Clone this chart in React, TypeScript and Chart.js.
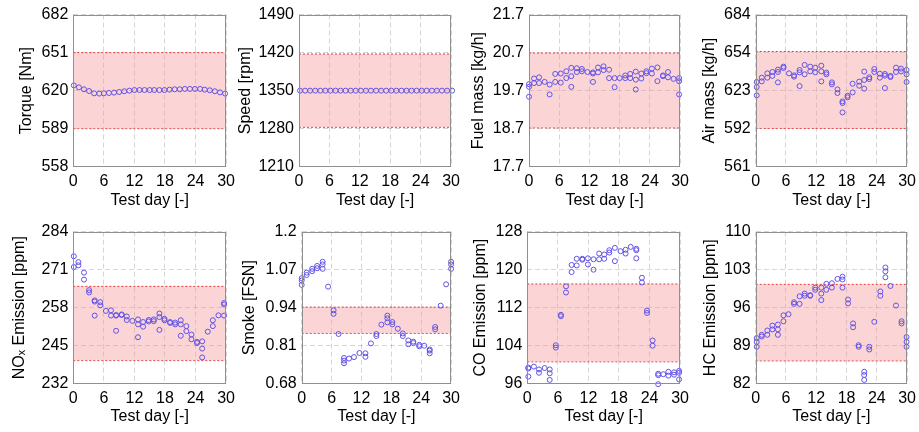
import React, { useEffect, useRef } from 'react';
import { Chart, registerables } from 'chart.js';

Chart.register(...registerables);

// ---------- data ----------
const xTickValues = [0, 6, 12, 18, 24, 30];

const torqueDays = [0.1, 1.1, 2.1, 3.1, 4.1, 5.1, 6.0, 7.0, 8.0, 9.0, 10.0, 11.0, 12.0, 13.0, 14.0, 15.0, 15.9, 16.9, 17.9, 18.9, 19.9, 20.9, 21.9, 22.9, 23.9, 24.9, 25.8, 26.8, 27.8, 28.8, 29.8];
const torqueValues = [[624.3], [622.7], [621.1], [619.7], [617.8], [617.6], [617.8], [618.1], [618.4], [618.9], [619.5], [620.0], [620.5], [620.5], [620.5], [620.5], [620.5], [620.5], [620.5], [620.8], [621.1], [621.1], [621.4], [621.4], [621.4], [621.4], [620.8], [620.3], [619.5], [618.6], [617.6]];
const torqueTicks = ['558', '589', '620', '651', '682'];

const speedDays = [0.2, 1.2, 2.2, 3.2, 4.2, 5.2, 6.2, 7.2, 8.2, 9.2, 10.2, 11.2, 12.2, 13.2, 14.2, 15.2, 16.2, 17.2, 18.2, 19.2, 20.2, 21.2, 22.2, 23.2, 24.2, 25.2, 26.2, 27.2, 28.2, 29.2, 30.2];
const speedValues = [[1350], [1350], [1350], [1350], [1350], [1350], [1350], [1350], [1350], [1350], [1350], [1350], [1350], [1350], [1350], [1350], [1350], [1350], [1350], [1350], [1350], [1350], [1350], [1350], [1350], [1350], [1350], [1350], [1350], [1350], [1350]];
const speedTicks = ['1210', '1280', '1350', '1420', '1490'];

const fuelDays = [0.0, 1.0, 2.0, 3.1, 4.1, 5.2, 6.3, 7.4, 8.4, 9.5, 10.5, 11.6, 12.7, 13.7, 14.8, 15.9, 17.0, 18.0, 19.1, 20.1, 21.2, 22.3, 23.3, 24.4, 25.5, 26.6, 27.6, 28.7, 29.8];
const fuelValues = [[19.87, 19.80, 19.54], [20.02, 19.90], [20.05, 19.90], [19.93], [19.86, 19.60], [20.14, 19.93], [20.15, 19.91], [20.21, 20.03], [20.30, 20.08, 19.80], [20.29, 20.19], [20.27, 20.21], [20.19], [20.18, 20.15, 19.93], [20.31, 20.18], [20.34, 20.24], [20.25, 20.03], [20.03, 19.79], [20.03], [20.10, 20.03], [20.14, 20.03], [20.20, 19.99, 19.73], [20.15, 20.02], [20.21, 20.16], [20.28, 20.15], [20.31, 19.95], [20.10, 20.08], [20.19, 20.05], [20.01], [20.03, 19.95, 19.60]];
const fuelTicks = ['17.7', '18.7', '19.7', '20.7', '21.7'];

const airDays = [0.2, 1.2, 2.3, 3.3, 4.4, 5.5, 6.6, 7.6, 8.7, 9.7, 10.8, 11.8, 13.0, 14.0, 15.1, 16.2, 17.2, 18.2, 19.2, 20.5, 21.5, 22.5, 23.5, 24.6, 25.6, 26.7, 27.8, 28.8, 29.9];
const airValues = [[629.5, 625.4, 618.7], [630.0, 633.0], [633.0, 636.5], [634.4, 637.6], [637.6, 639.5, 629.2], [641.9, 640.8], [636.5], [634.9, 633.8], [639.2, 637.3, 626.2], [643.3, 635.7], [641.9, 638.1], [641.1, 637.3], [642.7, 638.1, 630.0], [637.1, 635.7], [629.2, 627.6], [623.5, 620.6], [613.8, 612.5, 604.9], [618.4, 617.1], [628.1, 621.1], [629.8, 626.5], [637.9, 631.1, 624.1], [633.3, 631.9], [640.0, 637.6], [636.2, 633.0], [636.0, 634.6, 624.6], [634.4, 633.5], [641.1, 637.6], [640.3, 638.1], [639.2, 635.7, 629.5]];
const airTicks = ['561', '592', '623', '654', '684'];

const noxDays = [0.1, 1.0, 2.1, 3.1, 4.2, 5.3, 6.4, 7.4, 8.4, 9.5, 10.5, 11.6, 12.7, 13.7, 14.8, 15.8, 16.9, 17.9, 19.0, 20.0, 21.1, 22.2, 23.2, 24.3, 25.3, 26.4, 27.4, 28.5, 29.6];
const noxValues = [[275.6, 271.9], [273.6, 272.5], [270.0, 267.6], [264.0, 263.2], [260.5, 260.1, 255.3], [259.9, 258.8], [256.9], [257.1, 255.3], [255.5, 255.3, 250.1], [255.7, 255.5], [255.0, 253.8], [253.5], [254.0, 252.3, 247.9], [253.1, 251.5], [253.8, 253.3], [254.0, 253.4], [256.0, 254.8, 250.4], [254.2, 253.7], [253.1, 252.8], [252.9, 252.3], [253.7, 252.3, 248.4], [251.7, 250.0], [248.8, 247.2], [246.3, 245.9], [246.5, 244.0, 241.0], [249.8], [253.7, 251.7], [255.4], [259.6, 259.1, 255.3]];
const noxTicks = ['232', '245', '258', '271', '284'];

const smokeDays = [0.0, 1.0, 2.1, 3.1, 4.2, 5.3, 6.4, 7.4, 8.5, 9.5, 10.5, 11.6, 12.8, 13.9, 15.0, 16.0, 17.2, 18.2, 19.3, 20.3, 21.4, 22.4, 23.6, 24.6, 25.7, 26.8, 27.9, 29.0, 30.0];
const smokeValues = [[1.041, 1.033, 1.018], [1.060, 1.052], [1.073, 1.065], [1.083, 1.075], [1.097, 1.088, 1.073], [1.012], [0.931, 0.919], [0.850], [0.768, 0.759, 0.750], [0.766], [0.771], [0.785], [0.784, 0.772], [0.818], [0.850, 0.843], [0.882], [0.913, 0.904, 0.890], [0.891, 0.883], [0.868], [0.852, 0.843], [0.828, 0.815], [0.824, 0.819], [0.813, 0.808], [0.810], [0.797, 0.793, 0.784], [0.874, 0.866], [0.947], [1.020], [1.097, 1.088, 1.073]];
const smokeTicks = ['0.68', '0.81', '0.94', '1.07', '1.2'];

const coDays = [0.2, 1.3, 2.3, 3.4, 4.4, 5.6, 6.6, 7.6, 8.7, 9.7, 10.8, 11.9, 13.0, 14.1, 15.1, 16.1, 17.2, 18.3, 19.3, 20.3, 21.4, 22.5, 23.5, 24.6, 25.7, 26.7, 27.7, 28.8, 29.8];
const coValues = [[99.4, 99.2, 97.5], [99.6], [99.0, 98.3], [99.3], [99.0, 98.2, 96.8], [104.1, 103.6], [110.5, 110.2], [116.5, 115.2], [121.0, 119.5], [122.3, 120.9], [122.3, 122.1], [122.4, 121.1], [122.2, 120.0], [123.4, 122.2], [123.2, 122.3], [124.1, 123.6], [124.6, 121.8], [123.9], [124.2, 123.4], [124.8], [124.4, 124.1, 122.4], [118.3, 117.3], [111.4, 110.9], [105.1, 104.0], [98.1, 97.8, 95.9], [98.0], [98.5, 97.7], [98.4, 97.9], [98.7, 98.3, 96.9]];
const coTicks = ['96', '104', '112', '120', '128'];

const hcDays = [0.2, 1.2, 2.3, 3.3, 4.4, 5.5, 6.5, 7.6, 8.7, 9.7, 10.8, 11.8, 13.0, 14.0, 15.1, 16.2, 17.2, 18.3, 19.3, 20.4, 21.5, 22.5, 23.5, 24.7, 25.7, 26.7, 27.8, 28.9, 29.9];
const hcValues = [[90.4, 89.7, 88.8], [91.0, 90.7], [91.8, 91.0], [92.7, 92.0], [92.9, 92.0, 91.0], [94.6, 93.5], [94.8], [97.0, 96.7], [98.1, 96.7], [98.6, 98.2], [98.3, 98.2], [99.7, 99.3], [99.7, 98.6, 97.4], [100.4, 99.3], [100.5, 99.7], [101.3], [101.7, 101.2, 99.7], [97.5, 96.8], [93.1, 92.4], [89.1, 88.8], [84.2, 83.6, 82.7], [88.8, 88.3], [93.4], [99.0, 98.2], [103.4, 102.7, 101.6], [100.0], [96.4], [93.5, 93.1], [90.6, 89.7, 88.8]];
const hcTicks = ['82', '89', '96', '103', '110'];

const yTitles = ['Torque [Nm]', 'Speed [rpm]', 'Fuel mass [kg/h]', 'Air mass [kg/h]', 'NO\u2093 Emission [ppm]', 'Smoke [FSN]', 'CO Emission [ppm]', 'HC Emission [ppm]'];
const yRanges = [[558, 682], [1210, 1490], [17.7, 21.7], [561, 684], [232, 284], [0.68, 1.2], [96, 128], [82, 110]];
const bandUpper = [651, 1417.5, 20.69, 654.2, 265.3, 0.942, 117.0, 100.3];
const bandLower = [589, 1282.5, 18.72, 591.9, 239.9, 0.852, 100.6, 86.2];
const xTitle = 'Test day [-]';

// ---------- layout (positions only) ----------
const layouts = [
  { left: 0, top: 0, plotLeft: 73.3, plotRight: 227.7, plotTop: 14, plotBottom: 166.7, titleCenter: 27 },
  { left: 230, top: 0, plotLeft: 299, plotRight: 452.7, plotTop: 14, plotBottom: 166.7, titleCenter: 246 },
  { left: 460, top: 0, plotLeft: 529, plotRight: 682, plotTop: 14, plotBottom: 166.7, titleCenter: 478.5 },
  { left: 690, top: 0, plotLeft: 755.7, plotRight: 909, plotTop: 14, plotBottom: 166.7, titleCenter: 710 },
  { left: 0, top: 216, plotLeft: 73.3, plotRight: 227.7, plotTop: 231.7, plotBottom: 383.7, titleCenter: 20 },
  { left: 230, top: 216, plotLeft: 301.7, plotRight: 452.7, plotTop: 231.7, plotBottom: 383.7, titleCenter: 249.7 },
  { left: 460, top: 216, plotLeft: 527.3, plotRight: 681.7, plotTop: 231.7, plotBottom: 383.7, titleCenter: 481 },
  { left: 690, top: 216, plotLeft: 755.7, plotRight: 909, plotTop: 231.7, plotBottom: 383.7, titleCenter: 710.3 },
];

const seriesDays = [torqueDays, speedDays, fuelDays, airDays, noxDays, smokeDays, coDays, hcDays];
const seriesValues = [torqueValues, speedValues, fuelValues, airValues, noxValues, smokeValues, coValues, hcValues];
const seriesTicks = [torqueTicks, speedTicks, fuelTicks, airTicks, noxTicks, smokeTicks, coTicks, hcTicks];

const FONT = 'Liberation Sans, Arial, sans-serif';
const RIGHT_PAD = 12;
const CELL_H = 216;

const framePlugin = {
  id: 'frame',
  afterDraw(chart: any) {
    const { ctx, chartArea } = chart;
    const l = Math.round(chartArea.left) + 0.5;
    const t = Math.round(chartArea.top) + 0.5;
    const r = Math.round(chartArea.right) - 0.5;
    const b = Math.round(chartArea.bottom) - 0.5;
    ctx.save();
    ctx.strokeStyle = '#8f8f8f';
    ctx.lineWidth = 1;
    ctx.strokeRect(l, t, r - l, b - t);
    ctx.restore();
  },
};

function Panel({ index }: { index: number }) {
  const ref = useRef<HTMLCanvasElement | null>(null);
  const lay = layouts[index];
  const width = Math.round(lay.plotRight + RIGHT_PAD - lay.left);

  useEffect(() => {
    const days = seriesDays[index];
    const vals = seriesValues[index];
    const points: { x: number; y: number }[] = [];
    days.forEach((d, i) => vals[i].forEach((v) => points.push({ x: d, y: v })));
    const [yMin, yMax] = yRanges[index];
    const labels = seriesTicks[index];
    const yw = lay.plotLeft - lay.left;
    const xh = lay.top + CELL_H - lay.plotBottom;
    const padTop = lay.plotTop - lay.top;
    const titlePad = lay.titleCenter - lay.left - 9.6;

    const chart = new Chart(ref.current as HTMLCanvasElement, {
      type: 'scatter',
      data: {
        datasets: [
          {
            data: points,
            pointStyle: 'circle',
            pointRadius: 2.5,
            pointBorderWidth: 1,
            borderColor: '#6152e6',
            backgroundColor: 'rgba(0,0,0,0)',
            clip: false,
          } as any,
          {
            type: 'line',
            data: [{ x: 0, y: bandUpper[index] }, { x: 30, y: bandUpper[index] }],
            borderColor: '#e23b3b',
            borderWidth: 1,
            borderDash: [2, 2],
            pointRadius: 0,
            fill: '+1',
            backgroundColor: 'rgba(245,150,150,0.4)',
          } as any,
          {
            type: 'line',
            data: [{ x: 0, y: bandLower[index] }, { x: 30, y: bandLower[index] }],
            borderColor: '#e23b3b',
            borderWidth: 1,
            borderDash: [2, 2],
            pointRadius: 0,
            fill: false,
          } as any,
        ],
      },
      options: {
        animation: false,
        responsive: false,
        events: [],
        layout: { padding: { left: 0, right: RIGHT_PAD, top: padTop, bottom: 0 } },
        plugins: { legend: { display: false }, tooltip: { enabled: false } },
        scales: {
          x: {
            type: 'linear',
            min: 0,
            max: 30,
            afterBuildTicks: (s: any) => {
              s.ticks = xTickValues.map((v) => ({ value: v }));
            },
            afterFit: (s: any) => {
              s.height = xh;
            },
            grid: { color: 'rgba(0,0,0,0.16)', drawTicks: false },
            border: { display: false, dash: [5, 3] },
            ticks: { color: '#000', font: { family: FONT, size: 16 }, padding: 5, maxRotation: 0, autoSkip: false },
            title: { display: true, text: xTitle, color: '#000', font: { family: FONT, size: 16 }, padding: { top: 0, bottom: 6 } },
          },
          y: {
            type: 'linear',
            min: yMin,
            max: yMax,
            afterBuildTicks: (s: any) => {
              s.ticks = labels.map((_, i) => ({ value: yMin + ((yMax - yMin) * i) / (labels.length - 1) }));
            },
            afterFit: (s: any) => {
              s.width = yw;
            },
            grid: { color: 'rgba(0,0,0,0.16)', drawTicks: false },
            border: { display: false, dash: [5, 3] },
            ticks: {
              color: '#000',
              font: { family: FONT, size: 16 },
              padding: 5,
              autoSkip: false,
              callback: (_v: any, i: number) => labels[i],
            },
            title: { display: true, text: yTitles[index], color: '#000', font: { family: FONT, size: 16 }, padding: { top: titlePad, bottom: 0 } },
          },
        },
      } as any,
      plugins: [framePlugin],
    });
    return () => chart.destroy();
  }, [index]);

  return (
    <canvas
      ref={ref}
      width={width}
      height={CELL_H}
      style={{ position: 'absolute', left: lay.left, top: lay.top, width, height: CELL_H }}
    />
  );
}

export default function App() {
  return (
    <div style={{ position: 'fixed', left: 0, top: 0, width: 919, height: 432, overflow: 'hidden', background: '#fff' }}>
      {layouts.map((_, i) => (
        <Panel key={i} index={i} />
      ))}
    </div>
  );
}
